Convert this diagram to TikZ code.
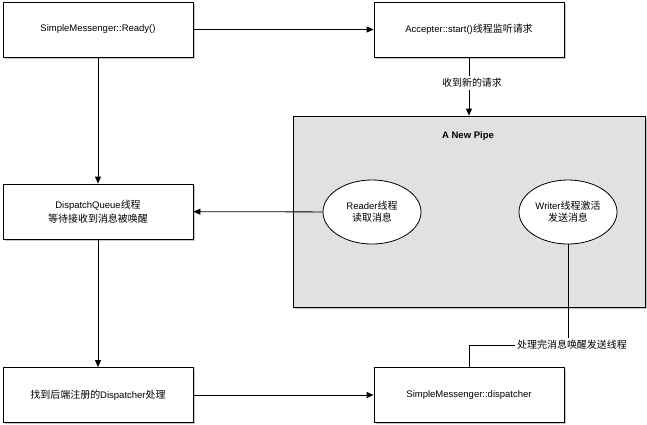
\documentclass[tikz,border=0pt]{standalone}
\usepackage{fontspec}
\setmainfont{Liberation Sans}
\newfontfamily\cjk[Scale=1.05]{Noto Sans CJK SC}
\newcommand{\zh}[1]{{\cjk #1}}
\usepackage{tikz}
\usepackage{xcolor}
\usetikzlibrary{shapes.geometric,arrows.meta,shadows,calc}

\definecolor{pipegray}{HTML}{E1E1E1}

\begin{document}
\begin{tikzpicture}[x=1pt, y=-1pt, font=\fontsize{9.5}{12}\selectfont,
    box/.style={draw, fill=white, thick, minimum width=190pt, minimum height=55pt,
        align=center, drop shadow={shadow xshift=1.5pt, shadow yshift=-1.5pt, opacity=.45}},
    thread/.style={draw, fill=white, ellipse, thick, minimum width=98pt, minimum height=64pt,
        align=center, inner sep=1pt},
    lbl/.style={fill=white, inner sep=2pt},
    arr/.style={-{Triangle[length=7pt,width=6pt]}, thick}]
    \useasboundingbox (0,0) rectangle (647,424);
    % left column
    \node[box] (ready) at (98,29.5) {SimpleMessenger::Ready()};
    \node[box] (queue) at (98,211.5) {DispatchQueue\zh{线程}\\[2pt]\zh{等待接收到消息被唤醒}};
    \node[box] (find) at (98,395) {\zh{找到后端注册的}Dispatcher\zh{处理}};
    % right column
    \node[box] (accept) at (469,29.5) {Accepter::start()\zh{线程监听请求}};
    \node[box] (disp) at (469,395) {SimpleMessenger::dispatcher};
    % the pipe
    \node[draw, thick, fill=pipegray, minimum width=352pt, minimum height=191pt,
        drop shadow={shadow xshift=1.5pt, shadow yshift=-1.5pt, opacity=.45}]
        (pipe) at (469,211.5) {};
    \node[font=\fontsize{9.5}{12}\selectfont\bfseries] (pipename) at (468,136) {A New Pipe};
    \node[thread] (reader) at (372,212) {Reader\zh{线程}\\\zh{读取消息}};
    \node[thread] (writer) at (568,212) {Writer\zh{线程激活}\\\zh{发送消息}};
    % labels on the connectors
    \node[lbl] (newreq) at (472,83) {\zh{收到新的请求}};
    \node[lbl] (wake) at (572,345) {\zh{处理完消息唤醒发送线程}};
    % connectors
    \draw[arr] (ready) -- (accept);
    \draw[arr] (ready) -- (queue);
    \draw[arr] (queue) -- (find);
    \draw[arr] (find) -- (disp);
    \draw[arr] (reader) -- (queue);
    \draw[thick] (accept.south) -- (accept.south |- newreq.north);
    \draw[arr] (pipe.north |- newreq.south) -- (pipe.north);
    \draw[thick] (writer.south) -- (writer.south |- wake.north);
    \draw[thick] (wake.west) -| (disp.north);
\end{tikzpicture}
\end{document}
